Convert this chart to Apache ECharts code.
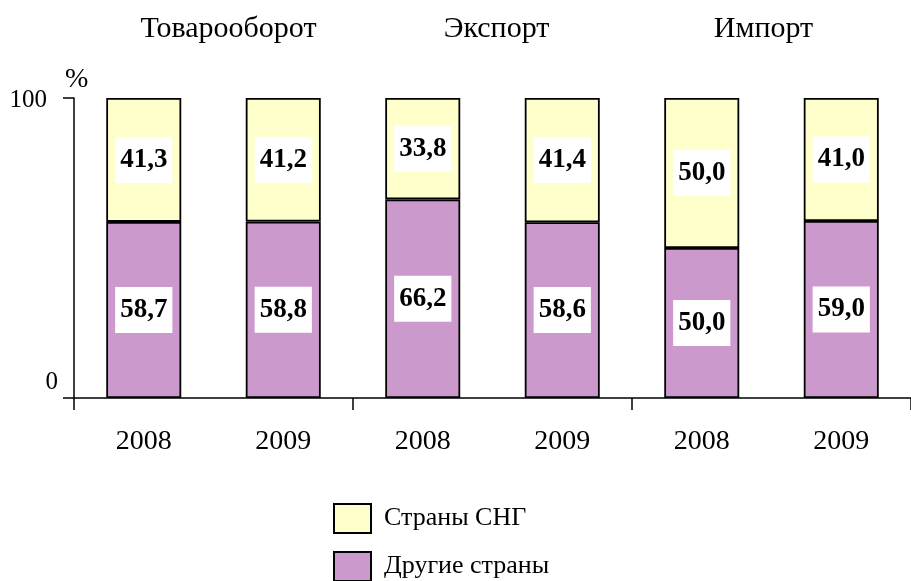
<!DOCTYPE html>
<html>
<head>
<meta charset="utf-8">
<script src="https://cdn.jsdelivr.net/npm/echarts@6/dist/echarts.min.js"></script>
<style>
  html, body { margin: 0; padding: 0; background: #fff; }
  #main { width: 911px; height: 581px; }
</style>
</head>
<body>
<div id="main"></div>
<script>
var myChart = echarts.init(document.getElementById('main'));

// data
var groups = ['Товарооборот', 'Экспорт', 'Импорт'];
var years = ['2008', '2009', '2008', '2009', '2008', '2009'];
var otherCountries = [58.7, 58.8, 66.2, 58.6, 50.0, 59.0];
var cisCountries = [41.3, 41.2, 33.8, 41.4, 50.0, 41.0];

var serif = '"Liberation Serif", "Times New Roman", serif';

function fmt(p) {
    return p.value.toFixed(1).replace('.', ',');
}

var segLabel = {
    show: true,
    position: 'inside',
    formatter: fmt,
    fontFamily: serif,
    fontSize: 27,
    fontWeight: 'bold',
    color: '#000',
    backgroundColor: '#fff',
    padding: [10, 5, 9, 5]
};

// nudge group titles (rich spacer on one side)
var titleFmt = {
    'Товарооборот': '{l30|}{a|Товарооборот}',
    'Экспорт': '{l8|}{a|Экспорт}',
    'Импорт': '{a|Импорт}{r16|}'
};

var legendText = { fontFamily: serif, fontSize: 26, color: '#000', padding: [0, 0, 0, 8] };

option = {
    animation: false,
    grid: {
        left: 74,
        top: 98,
        width: 840,
        height: 300
    },
    legend: [{
        left: 333,
        top: 503,
        padding: 0,
        itemWidth: 37,
        itemHeight: 29,
        icon: 'rect',
        data: ['Страны СНГ'],
        textStyle: legendText
    }, {
        left: 333,
        top: 551,
        padding: 0,
        itemWidth: 37,
        itemHeight: 29,
        icon: 'rect',
        data: ['Другие страны'],
        textStyle: legendText
    }],
    xAxis: [{
        type: 'category',
        data: years,
        position: 'bottom',
        axisLine: { lineStyle: { color: '#000', width: 1.5 } },
        axisTick: { show: false },
        axisLabel: { fontFamily: serif, fontSize: 28, color: '#000', margin: 30, interval: 0 }
    }, {
        type: 'category',
        data: groups,
        position: 'bottom',
        axisLine: { show: false },
        axisTick: { show: true, length: 12, lineStyle: { color: '#000', width: 1.5 } },
        axisLabel: { show: false }
    }, {
        type: 'category',
        data: groups,
        position: 'top',
        axisLine: { show: false },
        axisTick: { show: false },
        axisLabel: {
            interval: 0,
            hideOverlap: false,
            margin: 54,
            formatter: function (v) { return titleFmt[v]; },
            rich: {
                a: { fontFamily: serif, fontSize: 30, color: '#000' },
                l30: { padding: [0, 0, 0, 30] },
                l8: { padding: [0, 0, 0, 8] },
                r16: { padding: [0, 16, 0, 0] }
            }
        }
    }],
    yAxis: {
        type: 'value',
        min: 0,
        max: 100,
        interval: 100,
        name: '%',
        nameGap: 4,
        nameTextStyle: { fontFamily: serif, fontSize: 28, color: '#000', align: 'left', padding: [0, 0, 0, -9] },
        axisLine: { show: true, lineStyle: { color: '#000', width: 1.5 } },
        axisTick: { show: true, length: 11, lineStyle: { color: '#000', width: 1.5 } },
        splitLine: { show: false },
        axisLabel: {
            margin: 16,
            formatter: function (v) { return v === 0 ? '{z|0}' : '{h|' + v + '}'; },
            rich: {
                z: { fontFamily: serif, fontSize: 25, color: '#000', padding: [0, 0, 32, 0] },
                h: { fontFamily: serif, fontSize: 25, color: '#000', padding: [4, 11, 0, 0] }
            }
        }
    },
    series: [{
        name: 'Другие страны',
        type: 'bar',
        stack: 'total',
        barWidth: 75,
        data: otherCountries,
        itemStyle: { color: '#CC99CC', borderColor: '#000', borderWidth: 1.8 },
        label: segLabel
    }, {
        name: 'Страны СНГ',
        type: 'bar',
        stack: 'total',
        barWidth: 75,
        data: cisCountries,
        itemStyle: { color: '#FFFFCC', borderColor: '#000', borderWidth: 1.8 },
        label: segLabel
    }]
};

myChart.setOption(option);
window.onresize = myChart.resize;
</script>
</body>
</html>
